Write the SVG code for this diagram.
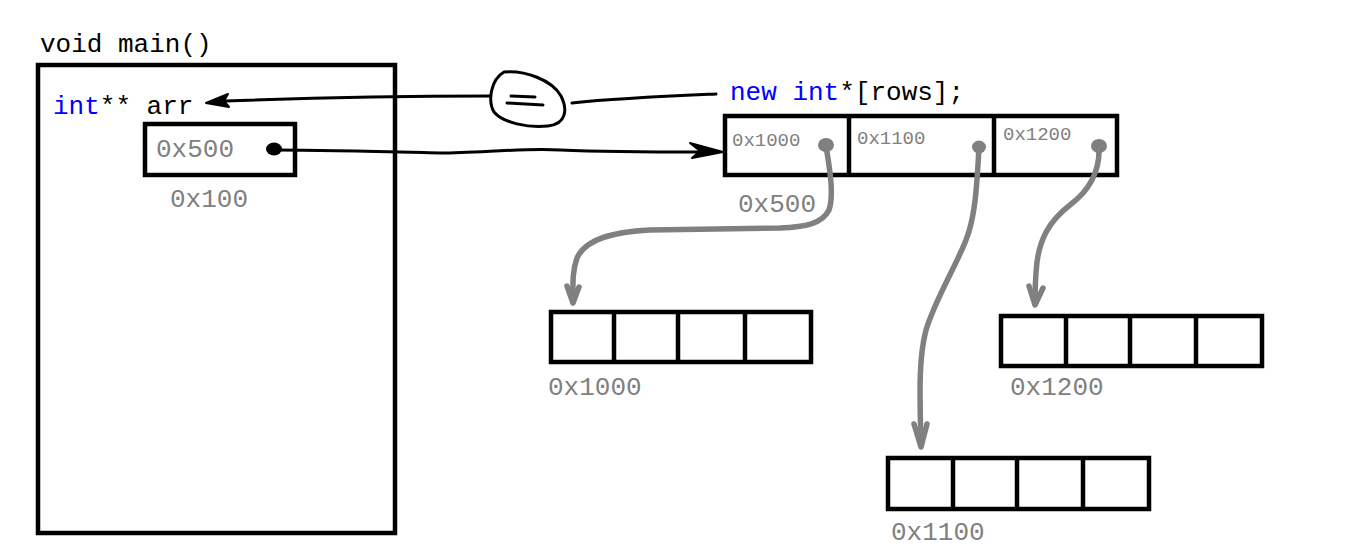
<svg xmlns="http://www.w3.org/2000/svg" width="1345" height="550" viewBox="0 0 1345 550">
  <defs>
    <style>
      .code { font-family: "Liberation Mono", "DejaVu Sans Mono", monospace; font-size: 26px; fill: #000000; }
      .small { font-family: "Liberation Mono", "DejaVu Sans Mono", monospace; font-size: 19px; fill: #808080; }
      .kw { fill: #0000ff; }
      .addr { fill: #808080; }
      .box { fill: #ffffff; stroke: #000000; stroke-width: 4.5; }
      .div { stroke: #000000; stroke-width: 4.5; }
      .ink { fill: none; stroke: #000000; stroke-width: 3; stroke-linecap: round; stroke-linejoin: round; }
      .gray { fill: none; stroke: #808080; stroke-width: 5.5; stroke-linecap: round; stroke-linejoin: round; }
    </style>
  </defs>

  <rect width="1345" height="550" fill="#ffffff"/>

  <!-- stack frame of main() -->
  <g id="main-frame">
    <text class="code" x="40" y="52">void main()</text>
    <rect class="box" x="38" y="65" width="357" height="468"/>
    <text class="code" x="53" y="114"><tspan class="kw">int</tspan>** arr</text>
  </g>

  <!-- the arr variable cell -->
  <g id="arr-cell">
    <rect class="box" x="145" y="124" width="150" height="51"/>
    <text class="code addr" x="156" y="157">0x500</text>
    <text class="code addr" x="170" y="207">0x100</text>
    <ellipse cx="274" cy="149" rx="8" ry="6.5" fill="#000000"/>
  </g>

  <!-- the allocation expression -->
  <g id="new-expr">
    <text class="code" x="730" y="100"><tspan class="kw">new int</tspan>*[rows];</text>
  </g>

  <!-- the "=" sign in a circle -->
  <g id="assign">
    <path class="ink" d="M 504 72 C 525 70 552 80 561 96 C 568 110 566 124 548 126 C 528 128 503 123 494 112 C 488 102 490 80 504 72 Z"/>
    <path class="ink" d="M 511 96 L 535 97"/>
    <path class="ink" d="M 507 103 L 543 105"/>
  </g>

  <!-- array of row pointers at 0x500 -->
  <g id="rows-array">
    <rect class="box" x="725" y="116" width="392" height="59"/>
    <line class="div" x1="849" y1="116" x2="849" y2="175"/>
    <line class="div" x1="994" y1="116" x2="994" y2="175"/>
    <text class="small" x="732" y="146">0x1000</text>
    <text class="small" x="857" y="144">0x1100</text>
    <text class="small" x="1003" y="140">0x1200</text>
    <text class="code addr" x="738" y="212">0x500</text>
    <ellipse cx="826" cy="145" rx="8" ry="7" fill="#808080"/>
    <ellipse cx="979" cy="147" rx="7" ry="6.5" fill="#808080"/>
    <ellipse cx="1099" cy="146" rx="8" ry="7" fill="#808080"/>
  </g>

  <!-- row at 0x1000 -->
  <g id="row-1000">
    <rect class="box" x="551" y="312" width="260" height="50"/>
    <line class="div" x1="614" y1="312" x2="614" y2="362"/>
    <line class="div" x1="678" y1="312" x2="678" y2="362"/>
    <line class="div" x1="745" y1="312" x2="745" y2="362"/>
    <text class="code addr" x="548" y="395">0x1000</text>
  </g>

  <!-- row at 0x1200 -->
  <g id="row-1200">
    <rect class="box" x="1001" y="316" width="261" height="50"/>
    <line class="div" x1="1066" y1="316" x2="1066" y2="366"/>
    <line class="div" x1="1130" y1="316" x2="1130" y2="366"/>
    <line class="div" x1="1196" y1="316" x2="1196" y2="366"/>
    <text class="code addr" x="1010" y="395">0x1200</text>
  </g>

  <!-- row at 0x1100 -->
  <g id="row-1100">
    <rect class="box" x="888" y="458" width="261" height="51"/>
    <line class="div" x1="953" y1="458" x2="953" y2="509"/>
    <line class="div" x1="1017" y1="458" x2="1017" y2="509"/>
    <line class="div" x1="1083" y1="458" x2="1083" y2="509"/>
    <text class="code addr" x="891" y="540">0x1100</text>
  </g>

  <!-- pointer connectors -->
  <g id="connectors">
    <!-- result of new assigned to arr -->
    <path class="ink" d="M 490 96 C 420 96 330 97 225 101"/>
    <path d="M 206 103 L 228 94 L 224 101 L 229 107 Z" fill="#000000" stroke="#000000" stroke-width="2" stroke-linejoin="round"/>
    <path class="ink" d="M 572 103 C 620 98 670 96 716 94"/>

    <!-- arr points to the row-pointer array -->
    <path class="ink" d="M 276 150 C 330 150 400 152 440 153 C 480 153 520 148 560 150 C 610 152 660 152 700 152"/>
    <path d="M 723 152 L 690 143 L 700 151 L 692 158 Z" fill="#000000" stroke="#000000" stroke-width="2" stroke-linejoin="round"/>

    <!-- row pointer 0 -->
    <path class="gray" d="M 826 146 C 830 170 834 195 829 210 C 822 224 805 227 780 228 L 650 230 C 610 232 585 240 577 258 C 572 272 573 285 573 302"/>
    <path class="gray" d="M 567 286 L 573 303 L 579 287"/>

    <!-- row pointer 1 -->
    <path class="gray" d="M 979 148 C 977 180 976 215 966 240 C 955 268 935 300 926 330 C 918 360 920 400 921 446"/>
    <path class="gray" d="M 914 424 L 921 447 L 927 424"/>

    <!-- row pointer 2 -->
    <path class="gray" d="M 1099 147 C 1100 170 1090 190 1070 205 C 1048 222 1040 240 1037 262 C 1035 280 1035 292 1035 304"/>
    <path class="gray" d="M 1029 286 L 1035 305 L 1043 288"/>
  </g>
</svg>
